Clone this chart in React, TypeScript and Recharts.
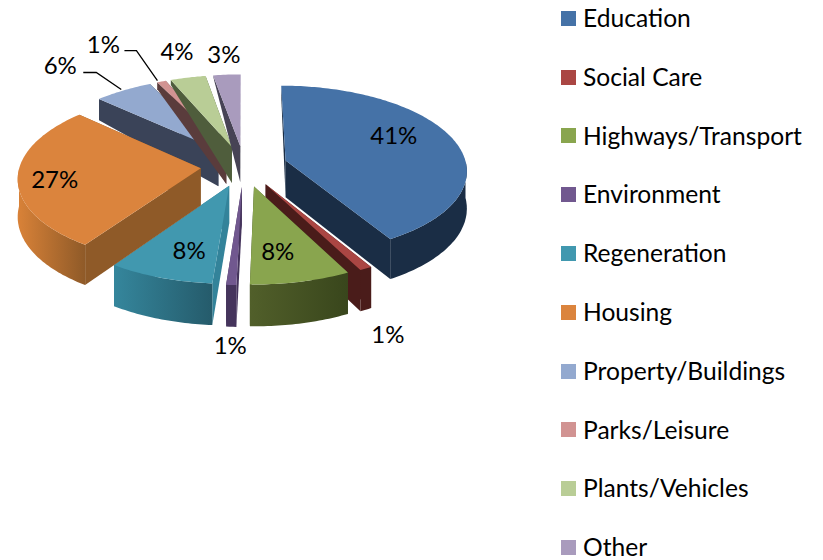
import { PieChart, Pie, Legend } from "recharts";

const categories = [
  "Education",
  "Social Care",
  "Highways/Transport",
  "Environment",
  "Regeneration",
  "Housing",
  "Property/Buildings",
  "Parks/Leisure",
  "Plants/Vehicles",
  "Other",
];
const shares = [41.4, 1, 8, 0.8, 8.4, 27.2, 5.9, 0.9, 3.6, 2.8];
const topColors = ["#4572A7", "#AA4643", "#89A54E", "#71588F", "#4198AF", "#DB843D", "#93A9CF", "#D19392", "#B9CD96", "#A99BBD"];
const wallLeft = ["#1A2D45", "#4A1C1A", "#515F2A", "#45345C", "#35869C", "#D98238", "#3A4358", "#5A3C3C", "#4F5D3C", "#474355"];
const wallRight = ["#1A2D45", "#4A1C1A", "#39461C", "#45345C", "#255B6B", "#8F5A28", "#3A4358", "#5A3C3C", "#4F5D3C", "#474355"];
const sideColors = ["#1A2D45", "#4A1C1A", "#39461C", "#45345C", "#33839A", "#8F5A28", "#3A4358", "#5A3C3C", "#4F5D3C", "#474355"];

// label nudge from the outer middle of each slice
const labelShift = [[-59, -4], [22, 65], [-23, -31], [-1, 60], [29, -28], [37, 0], [-63, -26], [-58, -38], [-11, -27], [-3, -21]];
const leaders: Record<string, number[][]> = {
  "Property/Buildings": [[-2, -1], [-27, -18], [-40, -18]],
  "Parks/Leisure": [[-4, -1], [-25, -31], [-37, -31]],
};

const rearSlices = ["Property/Buildings", "Parks/Leisure", "Plants/Vehicles", "Other"];
const tableData = categories.map((name, i) => ({ name, value: shares[i], fill: topColors[i] }));

const WIDTH = 823;
const HEIGHT = 560;
const TILT = 0.4696;
const PERSPECTIVE = 0.105;
const EXPLODE = 0.24;
const DEPTH = 37;
const FONT = "Lato, 'Open Sans', sans-serif";

const rad = (deg: number) => (deg * Math.PI) / 180;

// unit-plane point -> screen, y in the plane runs towards the viewer
// the side walls flatten out towards the far rim
const project = (cx: number, cy: number, R: number, px: number, py: number, lift = 0) => {
  const s = 1 + PERSPECTIVE * py;
  const fade = Math.min(1, Math.max(0, (py + 1.24) / 0.59));
  return [cx + R * px * s, cy + R * TILT * py * s + lift * s * fade];
};

const toPath = (pts: number[][]) =>
  pts.map((p, i) => `${i ? "L" : "M"}${p[0].toFixed(1)},${p[1].toFixed(1)}`).join("") + "Z";

const Wedge = (props: any) => {
  const { cx, cy, outerRadius: R, startAngle, endAngle, midAngle, name } = props;
  const i = categories.indexOf(name);
  const ox = Math.cos(rad(midAngle)) * EXPLODE;
  const oy = -Math.sin(rad(midAngle)) * EXPLODE;
  const top = (a: number, r = 1, lift = 0) =>
    project(cx, cy, R, ox + r * Math.cos(rad(a)), oy - r * Math.sin(rad(a)), lift);

  const n = Math.max(2, Math.ceil(Math.abs(startAngle - endAngle)));
  const angles = Array.from({ length: n + 1 }, (_, k) => startAngle + ((endAngle - startAngle) * k) / n);
  const apex = project(cx, cy, R, ox, oy);
  const apexLow = project(cx, cy, R, ox, oy, DEPTH);

  const front = angles.filter((a) => Math.sin(rad(a)) < 0.001);
  const wall = [...front.map((a) => top(a)), ...[...front].reverse().map((a) => top(a, 1, DEPTH))];
  const face = (a: number) => [apex, top(a), top(a, 1, DEPTH), apexLow];

  // start face looks at the viewer in the left half, end face in the right half
  const startVisible = Math.cos(rad(startAngle)) < 0;
  const faces = startVisible ? [endAngle, startAngle] : [startAngle, endAngle];

  return (
    <g>
      <defs>
        <linearGradient id={`wall-${i}`} x1="0" x2="1" y1="0" y2="0">
          <stop offset="0%" stopColor={wallLeft[i]} />
          <stop offset="100%" stopColor={wallRight[i]} />
        </linearGradient>
      </defs>
      {faces.map((a) => (
        <path key={a} d={toPath(face(a))} fill={sideColors[i]} />
      ))}
      {front.length > 1 && <path d={toPath(wall)} fill={`url(#wall-${i})`} />}
      <path d={toPath([apex, ...angles.map((a) => top(a))])} fill={topColors[i]} />
    </g>
  );
};

const rearShape = (props: any) => (rearSlices.includes(props.name) ? <Wedge {...props} /> : <g />);
const frontShape = (props: any) => (rearSlices.includes(props.name) ? <g /> : <Wedge {...props} />);

const renderLabel = (props: any) => {
  const { cx, cy, outerRadius: R, midAngle, name, percent } = props;
  const i = categories.indexOf(name);
  const dx = Math.cos(rad(midAngle)) * (1 + EXPLODE);
  const dy = -Math.sin(rad(midAngle)) * (1 + EXPLODE);
  const [x, y] = project(cx, cy, R, dx, dy);
  const leader = leaders[name];
  return (
    <g>
      {leader && (
        <polyline
          points={leader.map((p) => `${x + p[0]},${y + p[1]}`).join(" ")}
          fill="none"
          stroke="#000"
          strokeWidth={1.3}
        />
      )}
      <text
        x={x + labelShift[i][0]}
        y={y + labelShift[i][1]}
        textAnchor="middle"
        dominantBaseline="central"
        fontSize={24}
        fontFamily={FONT}
        fill="#000"
      >
        {Math.round(percent * 100)}%
      </text>
    </g>
  );
};

const renderLegend = (props: any) => (
  <div style={{ fontFamily: FONT, fontSize: 24.6, lineHeight: 1, color: "#000" }}>
    {categories.map((name) => {
      const entry = (props.payload || []).find((p: any) => p.value === name);
      return (
        <div key={name} style={{ display: "flex", alignItems: "center", height: 58.8, whiteSpace: "nowrap" }}>
          <span style={{ width: 15, height: 15, marginRight: 7, background: entry ? entry.color : "#000" }} />
          {name}
        </div>
      );
    })}
  </div>
);

export default function App() {
  return (
    <div style={{ position: "absolute", left: 0, top: 0, width: WIDTH, height: HEIGHT, overflow: "hidden" }}>
      <PieChart width={WIDTH} height={HEIGHT} margin={{ top: 0, right: 0, bottom: 0, left: 0 }}>
        <Pie
          data={tableData}
          dataKey="value"
          nameKey="name"
          cx={244}
          cy={166}
          outerRadius={181}
          startAngle={90}
          endAngle={-270}
          stroke="none"
          legendType="none"
          shape={rearShape}
          isAnimationActive={false}
        />
        <Pie
          data={tableData}
          dataKey="value"
          nameKey="name"
          cx={244}
          cy={166}
          outerRadius={181}
          startAngle={90}
          endAngle={-270}
          stroke="none"
          shape={frontShape}
          label={renderLabel}
          labelLine={false}
          isAnimationActive={false}
        />
        <Legend
          content={renderLegend}
          itemSorter={null}
          layout="vertical"
          align="right"
          verticalAlign="top"
          wrapperStyle={{ left: 561, top: -11, width: 262 }}
        />
      </PieChart>
    </div>
  );
}
